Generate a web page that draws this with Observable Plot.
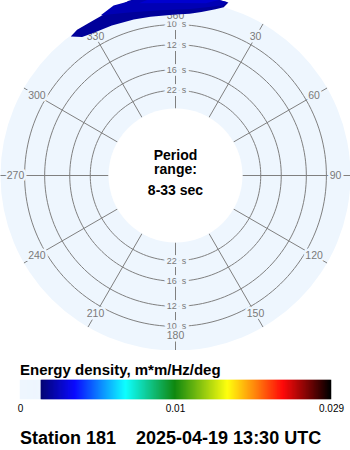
<!DOCTYPE html>
<html><head><meta charset="utf-8">
<script src="https://cdn.jsdelivr.net/npm/d3@7"></script>
<script src="https://cdn.jsdelivr.net/npm/@observablehq/plot@0.6"></script>
<style>
body{margin:0;background:#fff;font-family:"Liberation Sans",Arial,sans-serif;}
#wrap{position:relative;width:350px;height:450px;overflow:hidden;background:#fff;}
#polar{position:absolute;left:0;top:0;}
#title{position:absolute;left:20px;top:361px;font:bold 15px/18px "Liberation Sans",Arial,sans-serif;white-space:nowrap;color:#000;}
#legend{position:absolute;left:0;top:376px;}
#caption{position:absolute;left:20px;top:428px;font:bold 18px/21px "Liberation Sans",Arial,sans-serif;white-space:pre;color:#000;}
svg{display:block;overflow:hidden;}
</style></head><body>
<div id="wrap">
  <div id="polar"></div>
  <div id="title"></div>
  <div id="legend"></div>
  <div id="caption"></div>
</div>
<script>
// ---------- data ----------
const stationName = "Station 181";
const timestamp = "2025-04-19 13:30 UTC";
const legendTitle = "Energy density, m*m/Hz/deg";
const centerLines = ["Period", "range:", "8-33 sec"];
const periodMin = 8, periodMax = 33;
const ringPeriods = [10, 12, 16, 22];
const ringLabels = ["10  s", "12  s", "16  s", "22  s"];
const spokeDirections = [0, 30, 60, 90, 120, 150, 180, 210, 240, 270, 300, 330];
const directionLabels = ["360", "30", "60", "90", "120", "150", "180", "210", "240", "270", "300", "330"];
const legendTickValues = [0, 0.01, 0.029];
const legendTickLabels = ["0", "0.01", "0.029"];
const colorStopEnergy = [0, 0.00135, 0.001352, 0.00354, 0.00682, 0.01, 0.01642, 0.02315, 0.029];
const colorStopColors = ["#eef6fe", "#eef6fe", "#000070", "#0000ff", "#00ffff", "#008000", "#ffff00", "#ff0000", "#000000"];
// energy contours (direction in degrees, frequency in Hz)
const contourEnergy = [0.0020, 0.0024, 0.0028];
const contourDirections = [
  [323, 326, 330, 337, 345, 351, 0, 5, 9, 13.5, 16, 17, 15, 10, 5, 0, 355, 350, 345, 340, 332, 326],
  [335, 345, 355, 5, 12, 15.5, 16.5, 10, 0, 350, 340],
  [348, 0, 10, 14, 5, 355]
];
const contourFreqs = [
  [0.1192, 0.1134, 0.1113, 0.1100, 0.1088, 0.1082, 0.1084, 0.1096, 0.1121, 0.1167, 0.1200, 0.125, 0.125, 0.125, 0.125, 0.125, 0.125, 0.125, 0.125, 0.1225, 0.1204, 0.1208],
  [0.1215, 0.1150, 0.1125, 0.1135, 0.1180, 0.1215, 0.125, 0.125, 0.125, 0.125, 0.125],
  [0.1210, 0.1180, 0.1200, 0.125, 0.125, 0.125]
];

// ---------- layout ----------
const discColor = "#eef6fe";
const gridColor = "#808080";
const labelColor = "#7a7a7a";
const innerRadius = 67, outerRadius = 181, discRadius = 175, labelRadius = 160;
const font = "'Liberation Sans', Arial, sans-serif";

const rScale = d3.scaleLinear([1 / periodMax, 1 / periodMin], [innerRadius, outerRadius]);
const rad = d => d * Math.PI / 180;
const polarXY = (dir, r) => ({x: r * Math.sin(rad(dir)), y: r * Math.cos(rad(dir))});

const colorOpts = {type: "linear", domain: colorStopEnergy, range: colorStopColors, interpolate: "rgb"};

const ringRows = ringPeriods.flatMap(p => d3.range(0, 361, 2).map(a => ({p, ...polarXY(a, rScale(1 / p))})));
const spokeRows = spokeDirections.map(d => {
  const a = polarXY(d, rScale(1 / periodMax)), b = polarXY(d, discRadius);
  return {d, x1: a.x, y1: a.y, x2: b.x, y2: b.y};
});
const dirLabelRows = spokeDirections.map((d, i) => ({label: directionLabels[i], ...polarXY(d, labelRadius)}));
const ringLabelRows = ringPeriods.flatMap((p, i) => [0, 180].map(d => ({label: ringLabels[i], ...polarXY(d, rScale(1 / p))})));
const contourRows = contourEnergy.flatMap((e, k) =>
  contourDirections[k].map((d, j) => ({level: k, energy: e, ...polarXY(d, rScale(contourFreqs[k][j]))})));

const polar = Plot.plot({
  width: 350, height: 350, margin: 0,
  style: {fontFamily: font, background: "transparent"},
  x: {domain: [-175, 175], axis: null},
  y: {domain: [-175, 175], axis: null},
  color: colorOpts,
  marks: [
    Plot.dot([0], {x: 0, y: 0, r: discRadius, fill: discColor, stroke: "none"}),
    Plot.line(ringRows, {x: "x", y: "y", z: "p", stroke: gridColor, strokeWidth: 1}),
    Plot.link(spokeRows, {x1: "x1", y1: "y1", x2: "x2", y2: "y2", stroke: gridColor, strokeWidth: 1}),
    Plot.dot([0], {x: 0, y: 0, r: rScale(1 / periodMax), fill: "white", stroke: "none"}),
    Plot.text(ringLabelRows, {x: "x", y: "y", text: "label", fontSize: 9, fill: labelColor,
      stroke: discColor, strokeWidth: 6, paintOrder: "stroke", strokeLinejoin: "round", dx: 1}),
    Plot.text(dirLabelRows, {x: "x", y: "y", text: "label", fontSize: 10.5, fill: labelColor,
      stroke: discColor, strokeWidth: 5, paintOrder: "stroke", strokeLinejoin: "round"}),
    Plot.text([centerLines[0]], {x: 0, y: 0, text: d => d, fontSize: 14, fontWeight: "bold", lineAnchor: "bottom", dy: -16, fill: "black"}),
    Plot.text([centerLines[1]], {x: 0, y: 0, text: d => d, fontSize: 14, fontWeight: "bold", lineAnchor: "bottom", dy: -2, fill: "black"}),
    Plot.text([centerLines[2]], {x: 0, y: 0, text: d => d, fontSize: 14, fontWeight: "bold", lineAnchor: "bottom", dy: 19, fill: "black"}),
    Plot.line(contourRows, {x: "x", y: "y", z: "level", fill: "energy", stroke: "none", clip: true})
  ]
});
document.getElementById("polar").appendChild(polar);

document.getElementById("title").textContent = legendTitle;
document.getElementById("caption").textContent = stationName + "    " + timestamp;

// legend bar
const posToEnergy = d3.scaleLinear([0, 0.5, 1], [0, 0.01, 0.029]);
const nSteps = 311;
const barRows = d3.range(nSteps).map(i => ({
  e1: posToEnergy(i / nSteps), e2: posToEnergy((i + 1) / nSteps), e: posToEnergy((i + 0.5) / nSteps)
}));
const legend = Plot.plot({
  width: 350, height: 40, marginTop: 4, marginBottom: 17, marginLeft: 0, marginRight: 0,
  style: {fontFamily: font, background: "transparent"},
  x: {type: "linear", domain: [0, 0.01, 0.029], range: [20, 175, 331], axis: null},
  color: colorOpts,
  marks: [
    Plot.rect(barRows, {x1: "e1", x2: "e2", fill: "e", stroke: "e", strokeWidth: 0.5}),
    Plot.text(legendTickValues, {x: d => d, text: (d, i) => legendTickLabels[i], frameAnchor: "bottom",
      lineAnchor: "bottom", dy: 12, fontSize: 10, fill: "black"})
  ]
});
document.getElementById("legend").appendChild(legend);
</script>
</body></html>
